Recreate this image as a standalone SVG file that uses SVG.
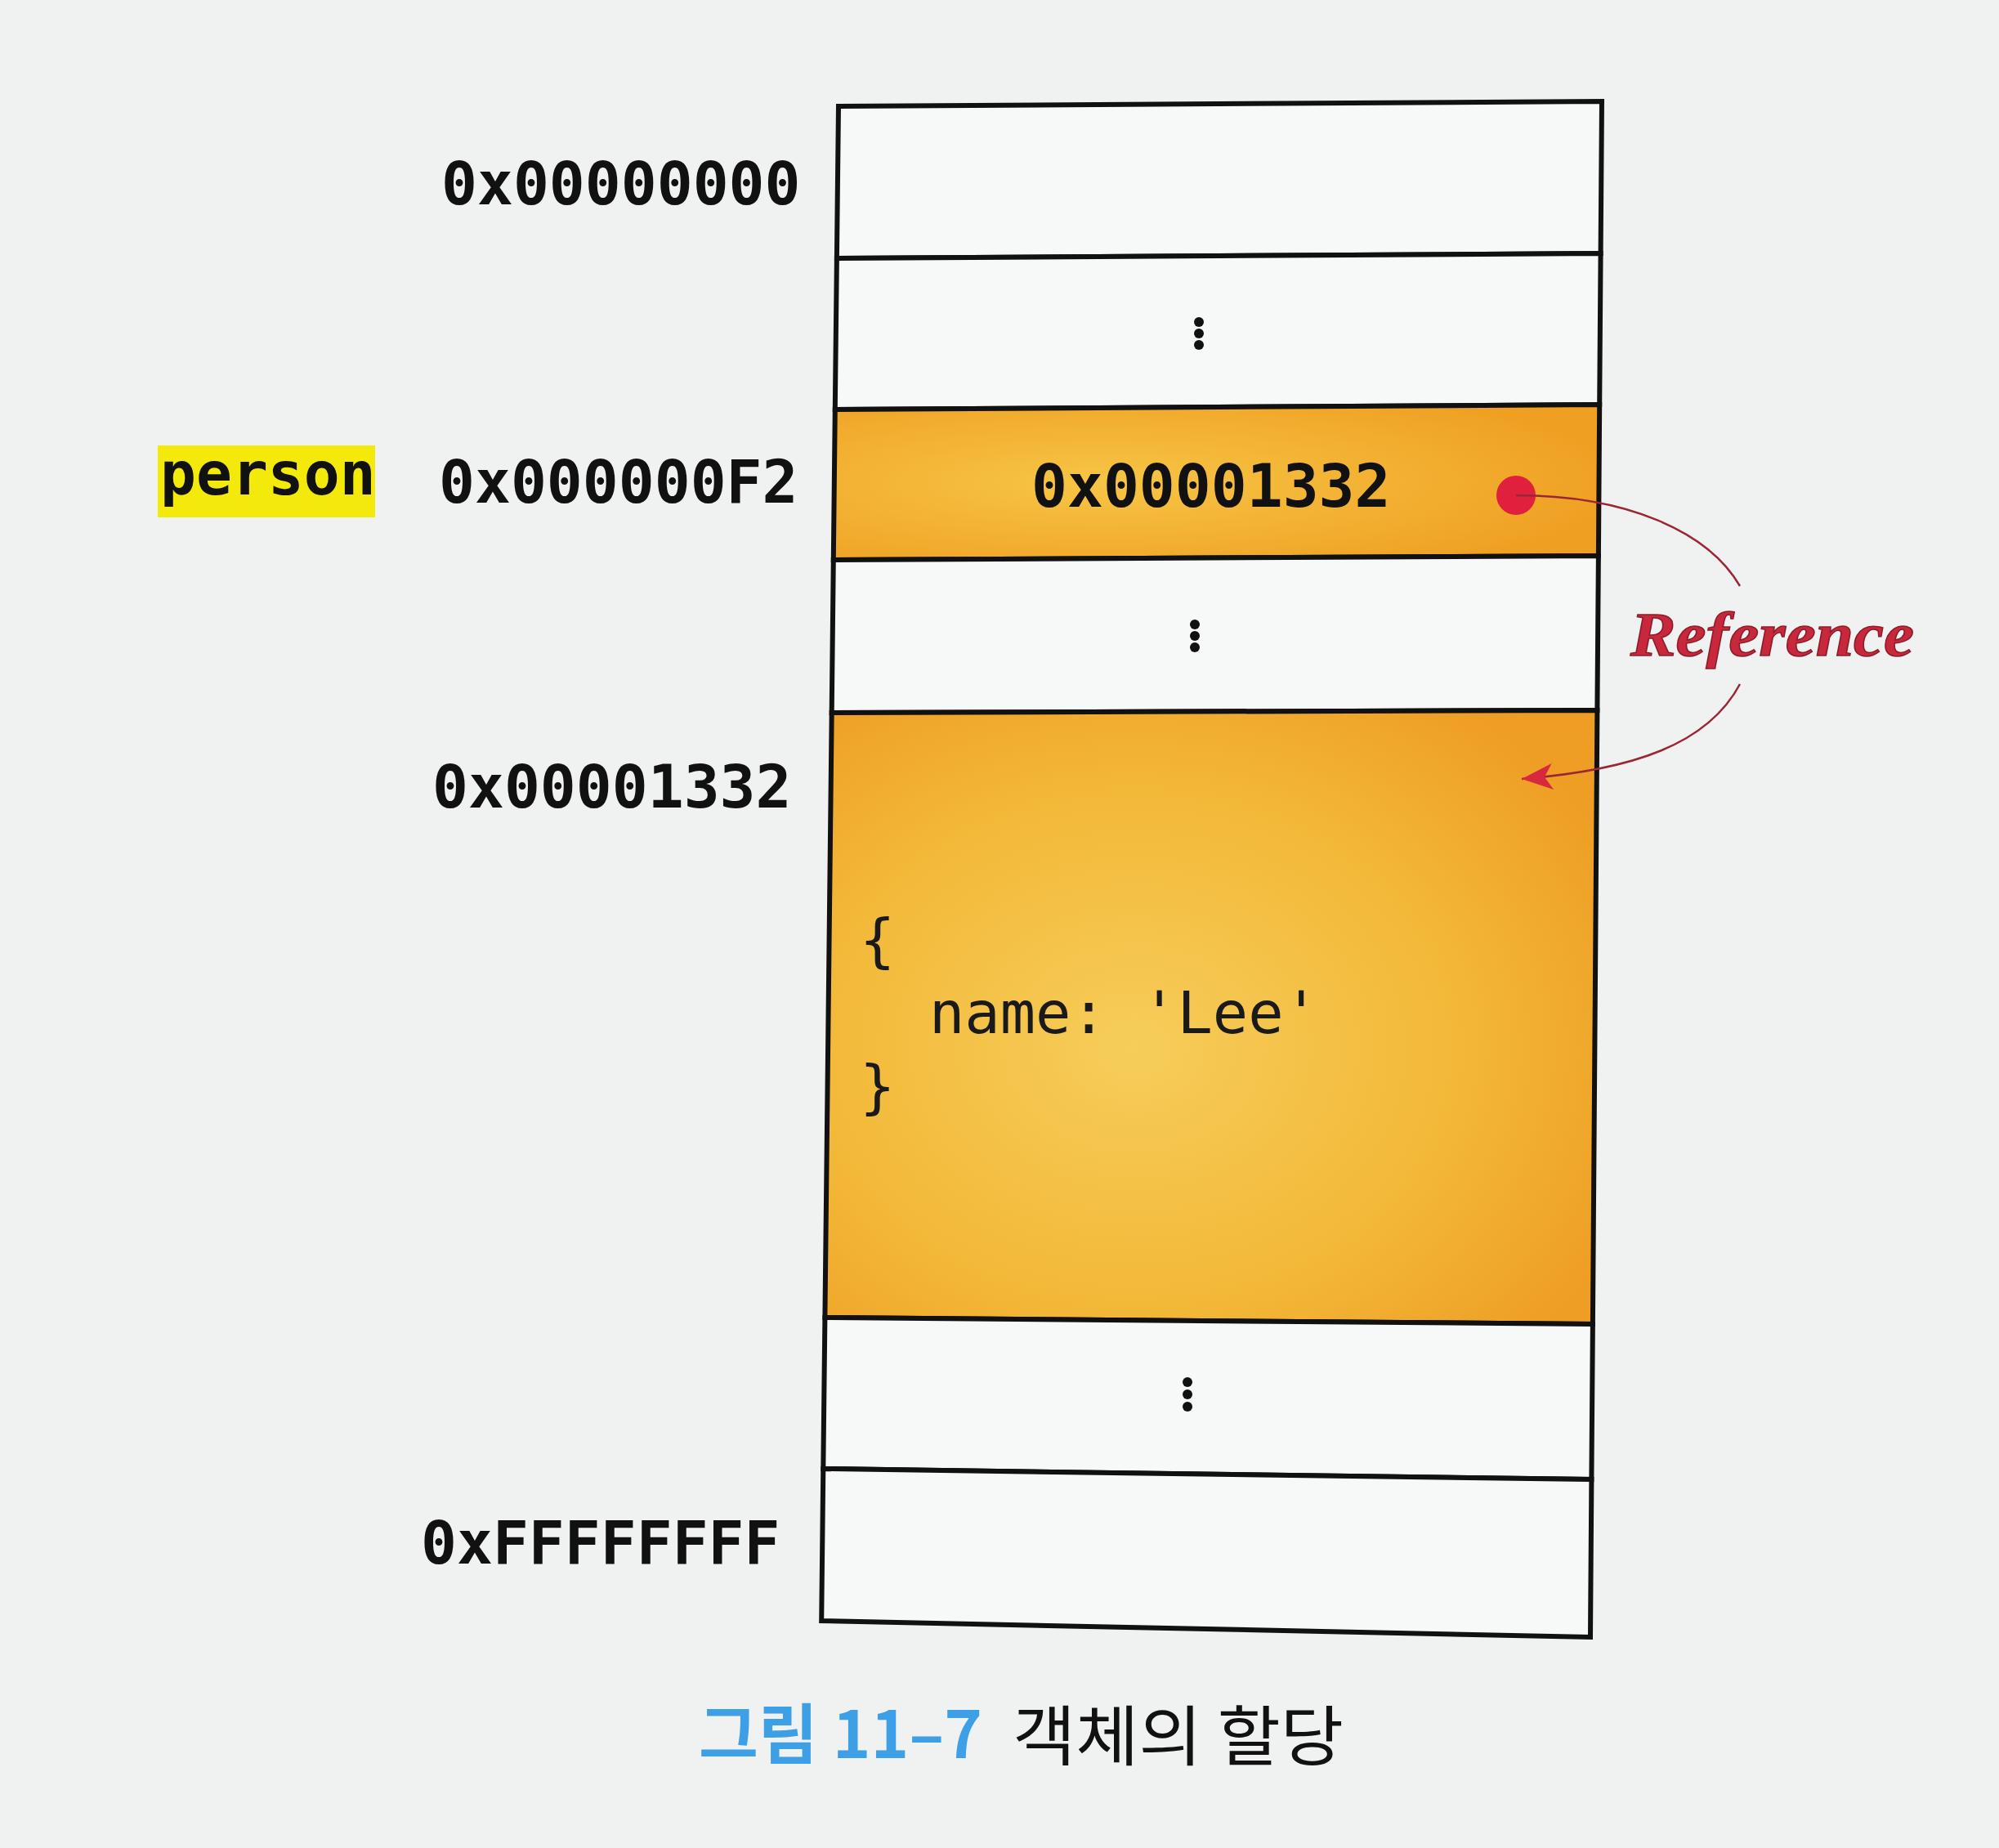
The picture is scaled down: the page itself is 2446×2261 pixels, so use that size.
<svg xmlns="http://www.w3.org/2000/svg" width="2446" height="2261" viewBox="0 0 2446 2261">
<defs>
<style>
.cell{stroke:#111;stroke-width:6;stroke-linejoin:miter}
.white{fill:#f7f8f8}
.addr{font-family:"DejaVu Sans Mono","Liberation Mono",monospace;font-weight:bold;font-size:73px;fill:#111}
.code{font-family:"DejaVu Sans Mono","Liberation Mono",monospace;font-size:72px;fill:#1a1a1a}
.dot{fill:#111}
.link{fill:none;stroke:#9a2636;stroke-width:2.5}
</style>
<radialGradient id="og1" cx="0.35" cy="0.5" r="0.7">
<stop offset="0" stop-color="#f7c545"/>
<stop offset="1" stop-color="#ef9f22"/>
</radialGradient>
<radialGradient id="og2" cx="0.4" cy="0.55" r="0.7">
<stop offset="0" stop-color="#f6cd5a"/>
<stop offset="0.6" stop-color="#f3b838"/>
<stop offset="1" stop-color="#ee9e24"/>
</radialGradient>
<marker id="arr" viewBox="0 0 40 36" refX="40" refY="18" markerWidth="40" markerHeight="36" markerUnits="userSpaceOnUse" orient="auto">
<path d="M40,18 L2,2 L12,18 L2,34 Z" fill="#d8283e"/>
</marker>
</defs>
<rect x="0" y="0" width="2446" height="2261" fill="#f0f1f1"/>

<g id="cell-0">
<polygon class="cell white" points="1026,130 1960,124 1958.6,310 1023.9,316"/>
</g>
<g id="cell-1">
<polygon class="cell white" points="1023.9,316 1958.6,310 1957.2,495 1021.8,501"/>
<circle class="dot" cx="1467" cy="394" r="6"/>
<circle class="dot" cx="1467" cy="408" r="6"/>
<circle class="dot" cx="1467" cy="422" r="6"/>
</g>
<g id="cell-person">
<polygon class="cell" fill="url(#og1)" points="1021.8,501 1957.2,495 1955.9,680 1019.8,685"/>
<text class="addr" x="1262" y="620">0x00001332</text>
<circle cx="1855" cy="606" r="24" fill="#e0203c"/>
</g>
<g id="cell-3">
<polygon class="cell white" points="1019.8,685 1955.9,680 1954.4,869 1017.7,872"/>
<circle class="dot" cx="1462" cy="764" r="6"/>
<circle class="dot" cx="1462" cy="778" r="6"/>
<circle class="dot" cx="1462" cy="792" r="6"/>
</g>
<g id="cell-object">
<polygon class="cell" fill="url(#og2)" points="1017.7,872 1954.4,869 1948.9,1620 1009.4,1612"/>
<text class="code" x="1052" y="1175">{</text>
<text class="code" x="1137" y="1264">name: 'Lee'</text>
<text class="code" x="1052" y="1354">}</text>
</g>
<g id="cell-5">
<polygon class="cell white" points="1009.4,1612 1948.9,1620 1947.4,1810 1007.3,1797"/>
<circle class="dot" cx="1453" cy="1691" r="6"/>
<circle class="dot" cx="1453" cy="1706" r="6"/>
<circle class="dot" cx="1453" cy="1721" r="6"/>
</g>
<g id="cell-last">
<polygon class="cell white" points="1007.3,1797 1947.4,1810 1946,2003 1005.2,1983"/>
</g>

<g id="label-addr0">
<text class="addr" x="540" y="250">0x00000000</text>
</g>
<g id="label-person">
<rect x="193" y="545" width="266" height="88" fill="#f3ea0c"/>
<text class="addr" x="196" y="605" font-size="71">person</text>
</g>
<g id="label-addrF2">
<text class="addr" x="537" y="615">0x000000F2</text>
</g>
<g id="label-addr1332">
<text class="addr" x="529" y="988">0x00001332</text>
</g>
<g id="label-addrFF">
<text class="addr" x="515" y="1913" fill="#2a2a2a">0xFFFFFFFF</text>
</g>

<g id="connectors">
<path class="link" d="M1855,606 C1990,606 2090,650 2129,717"/>
<path class="link" d="M2129,837 C2090,910 2000,942 1862,953" marker-end="url(#arr)"/>
</g>
<g id="label-reference">
<text x="1995" y="802" font-family="'Liberation Serif',serif" font-weight="bold" font-style="italic" font-size="76" fill="#c8283c" stroke="#8e1c2a" stroke-width="1.5" textLength="347" lengthAdjust="spacingAndGlyphs">Reference</text>
</g>

<g id="caption">
<text x="855" y="2151" font-family="'Noto Sans CJK KR',sans-serif" font-weight="bold" font-size="80" fill="#3d9fe6" textLength="347" lengthAdjust="spacingAndGlyphs">그림 11–7</text>
<text x="1239" y="2153" font-family="'Noto Sans CJK KR',sans-serif" font-size="80" fill="#111" textLength="405" lengthAdjust="spacingAndGlyphs">객체의 할당</text>
</g>
</svg>
